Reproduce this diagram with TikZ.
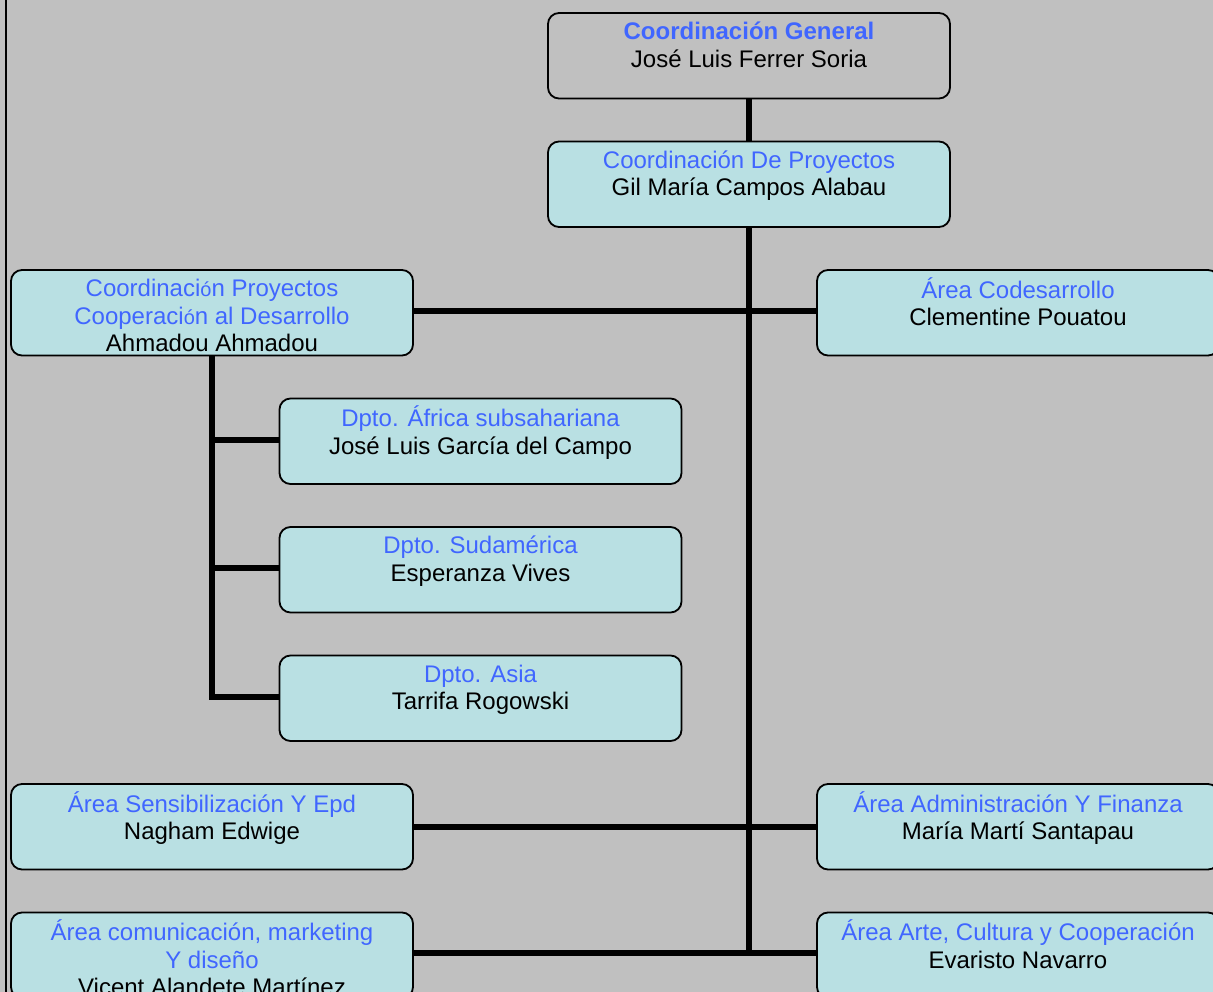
\documentclass[tikz,border=0pt]{standalone}
\usepackage{fontspec}
\setmainfont{Liberation Sans}
\definecolor{bgray}{RGB}{192,192,192}
\definecolor{boxfill}{RGB}{185,224,227}
\definecolor{bluet}{RGB}{64,102,255}
\newcommand\tblue[1]{{\color{bluet}#1}}
\newcommand\smo{{\fontsize{20}{27.5}\selectfont ó}}
\pgfdeclarelayer{bglayer}
\pgfdeclarelayer{lineslayer}
\pgfsetlayers{bglayer,lineslayer,main}
\tikzset{
  orgbox/.style={draw=black, line width=1.8pt, rounded corners=11pt, fill=boxfill,
    minimum width=402pt, minimum height=85.5pt, inner sep=0pt},
  graybox/.style={orgbox, fill=bgray},
  boxtxt/.style={anchor=north, inner sep=0pt, yshift=-8.25pt,
    font=\fontsize{24}{27.5}\selectfont},
  conn/.style={line width=5.6pt, black}
}
\newcommand\btxt[1]{\parbox[t]{440pt}{\centering\strut #1}}
\begin{document}
\begin{tikzpicture}[x=1pt,y=-1pt]
\useasboundingbox (0,0) rectangle (1213,992);
\clip (0,0) rectangle (1213,992);
\begin{pgfonlayer}{bglayer}
\fill[bgray] (0,0) rectangle (1213,992);
\draw[line width=2pt] (6,0) -- (6,992);
\end{pgfonlayer}

% boxes
\node[graybox] (cg)   at (749, 55.75) {};
\node[orgbox]  (cdp)  at (749, 184.25) {};
\node[orgbox]  (cpc)  at (212, 312.75) {};
\node[orgbox]  (cod)  at (1018, 312.75) {};
\node[orgbox]  (afr)  at (480.5, 441.25) {};
\node[orgbox]  (sud)  at (480.5, 569.75) {};
\node[orgbox]  (asia) at (480.5, 698.25) {};
\node[orgbox]  (sens) at (212, 826.75) {};
\node[orgbox]  (adm)  at (1018, 826.75) {};
\node[orgbox]  (com)  at (212, 955.25) {};
\node[orgbox]  (arte) at (1018, 955.25) {};

% texts
\node[boxtxt] (cgt) at (cg.north) {\btxt{\tblue{\textbf{Coordinación General}}\\José Luis Ferrer Soria}};
\node[boxtxt] (cdpt) at (cdp.north) {\btxt{\tblue{Coordinación De Proyectos}\\Gil María Campos Alabau}};
\node[boxtxt] (cpct) at (cpc.north) {\btxt{\tblue{Coordinaci\smo n Proyectos}\\\tblue{Cooperaci\smo n al Desarrollo}\\Ahmadou Ahmadou}};
\node[boxtxt] (codt) at (cod.north) {\btxt{\tblue{Área Codesarrollo}\\Clementine Pouatou}};
\node[boxtxt] (afrt) at (afr.north) {\btxt{\tblue{Dpto. África subsahariana}\\José Luis García del Campo}};
\node[boxtxt] (sudt) at (sud.north) {\btxt{\tblue{Dpto. Sudamérica}\\Esperanza Vives}};
\node[boxtxt] (asiat) at (asia.north) {\btxt{\tblue{Dpto. Asia}\\Tarrifa Rogowski}};
\node[boxtxt] (senst) at (sens.north) {\btxt{\tblue{Área Sensibilización Y Epd}\\Nagham Edwige}};
\node[boxtxt] (admt) at (adm.north) {\btxt{\tblue{Área Administración Y Finanza}\\María Martí Santapau}};
\node[boxtxt] (comt) at (com.north) {\btxt{\tblue{Área comunicación, marketing}\\\tblue{Y diseño}\\Vicent Alandete Martínez}};
\node[boxtxt] (artet) at (arte.north) {\btxt{\tblue{Área Arte, Cultura y Cooperación}\\Evaristo Navarro}};

% connectors
\begin{pgfonlayer}{lineslayer}
\draw[conn] (cg.south) -- (cdp.north);
\draw[conn] (cdp.south) -- ([yshift=-0.8pt]cdp.south |- com.east);
\draw[conn] ([yshift=1.5pt]cpc.east) -- ([yshift=1.5pt]cod.west);
\draw[conn] (sens.east) -- (adm.west);
\draw[conn] ([yshift=2pt]com.east) -- ([yshift=2pt]arte.west);
\draw[conn] (cpc.south) -- ([yshift=-1.3pt]cpc.south |- asia.west);
\draw[conn] ([yshift=1.5pt]cpc.south |- afr.west) -- ([yshift=1.5pt]afr.west);
\draw[conn] ([yshift=1.5pt]cpc.south |- sud.west) -- ([yshift=1.5pt]sud.west);
\draw[conn] ([yshift=1.5pt]cpc.south |- asia.west) -- ([yshift=1.5pt]asia.west);
\end{pgfonlayer}
\end{tikzpicture}
\end{document}
